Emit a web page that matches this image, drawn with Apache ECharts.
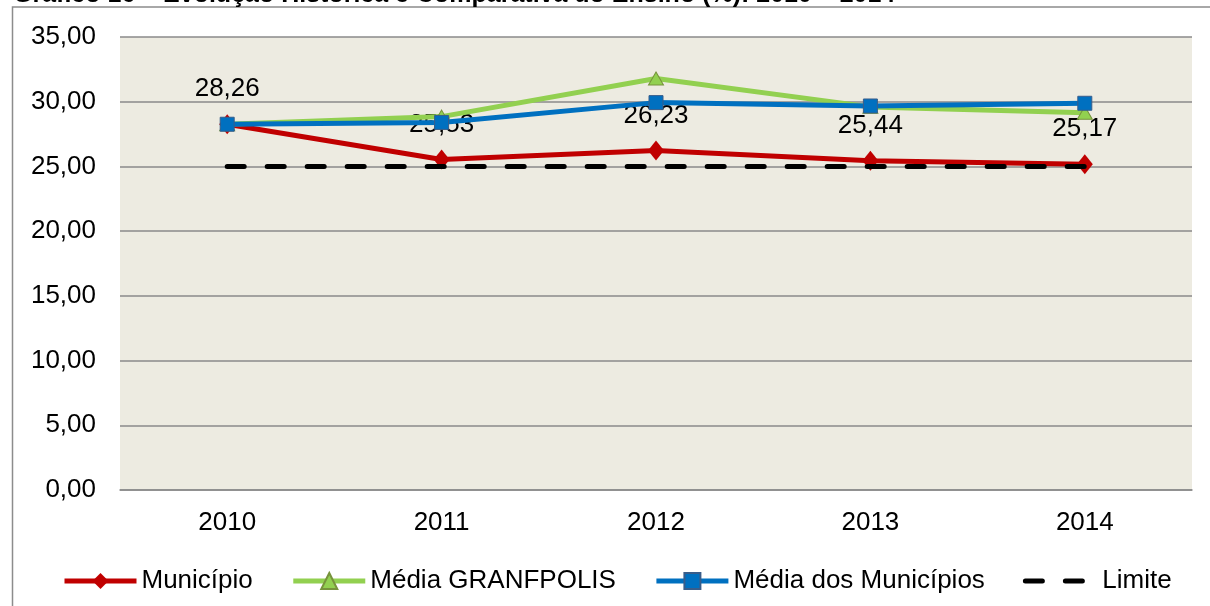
<!DOCTYPE html>
<html>
<head>
<meta charset="utf-8">
<script src="https://cdn.jsdelivr.net/npm/echarts@6/dist/echarts.min.js"></script>
<style>
html,body{margin:0;padding:0;background:#fff;}
#c{width:1210px;height:606px;}
</style>
</head>
<body>
<div id="c"></div>
<script>
const titleText = 'Gráfico 16 – Evolução Histórica e Comparativa do Ensino (%): 2010 – 2014';
const categories = ['2010', '2011', '2012', '2013', '2014'];
const municipio = [28.26, 25.53, 26.23, 25.44, 25.17];
const mediaGranfpolis = [28.26, 28.85, 31.8, 29.6, 29.15];
const mediaMunicipios = [28.26, 28.4, 29.93, 29.67, 29.88];
const limite = [25, 25, 25, 25, 25];
const yTicks = {min: 0, max: 35, interval: 5};
const seriesNames = ['Município', 'Média GRANFPOLIS', 'Média dos Municípios', 'Limite'];

const FONT = '"Liberation Sans", Arial, sans-serif';
const FS = 26;
const fmt = v => Number(v).toFixed(2).replace('.', ',');

const chart = echarts.init(document.getElementById('c'), null, {renderer: 'canvas'});
chart.setOption({
  animation: false,
  backgroundColor: '#ffffff',
  textStyle: {fontFamily: FONT},
  graphic: [
    {type: 'rect', x: 12.5, y: 7, silent: true, z: -10,
     shape: {x: 0, y: 0, width: 1400, height: 800},
     style: {fill: 'none', stroke: '#8c8c8c', lineWidth: 1.5}},
    {type: 'text', x: 13, y: -5, silent: true,
     style: {text: titleText, font: 'bold 25px ' + FONT, fill: '#000', verticalAlign: 'middle', align: 'left'}}
  ],
  grid: {left: 120, right: 18, top: 37, bottom: 116, show: true,
         backgroundColor: '#EDEBE1', borderWidth: 0},
  legend: {
    left: 57, top: 563,
    itemWidth: 72, itemHeight: 20, itemGap: 38,
    lineStyle: {width: 5},
    textStyle: {fontSize: FS, color: '#000', fontFamily: FONT, padding: [0, 0, 0, 0]},
    data: [
      {name: seriesNames[0]},
      {name: seriesNames[1]},
      {name: seriesNames[2]},
      {name: seriesNames[3], itemStyle: {opacity: 0}}
    ]
  },
  xAxis: {
    type: 'category', data: categories, boundaryGap: true,
    axisLine: {show: true, lineStyle: {color: '#8a8a8a', width: 1.5}},
    axisTick: {show: false},
    axisLabel: {fontSize: FS, color: '#000', margin: 20, fontFamily: FONT}
  },
  yAxis: {
    type: 'value', min: yTicks.min, max: yTicks.max, interval: yTicks.interval,
    axisLine: {show: false}, axisTick: {show: false},
    splitLine: {show: true, lineStyle: {color: '#8a8a8a', width: 1.5}},
    axisLabel: {fontSize: FS, color: '#000', margin: 24, formatter: fmt, fontFamily: FONT}
  },
  series: [
    {name: seriesNames[0], type: 'line', data: municipio,
     symbol: 'diamond', symbolSize: [16, 20],
     lineStyle: {color: '#C00000', width: 5},
     itemStyle: {color: '#C00000'},
     label: {show: true, position: 'top', distance: 12, fontSize: FS, color: '#000',
             fontFamily: FONT, formatter: p => fmt(p.value)},
     z: 2},
    {name: seriesNames[1], type: 'line', data: mediaGranfpolis,
     symbol: 'triangle', symbolSize: [15, 13],
     lineStyle: {color: '#92D050', width: 5},
     itemStyle: {color: '#92D050', borderColor: '#77933C', borderWidth: 1},
     z: 3},
    {name: seriesNames[2], type: 'line', data: mediaMunicipios,
     symbol: 'rect', symbolSize: 14,
     lineStyle: {color: '#0070C0', width: 5},
     itemStyle: {color: '#0070C0', borderColor: '#385D8A', borderWidth: 1},
     z: 4},
    {name: seriesNames[3], type: 'line', data: limite,
     symbol: 'none',
     lineStyle: {color: '#000', width: 5, type: [17, 23], cap: 'round'},
     itemStyle: {color: '#000'},
     z: 5}
  ]
});
</script>
</body>
</html>
